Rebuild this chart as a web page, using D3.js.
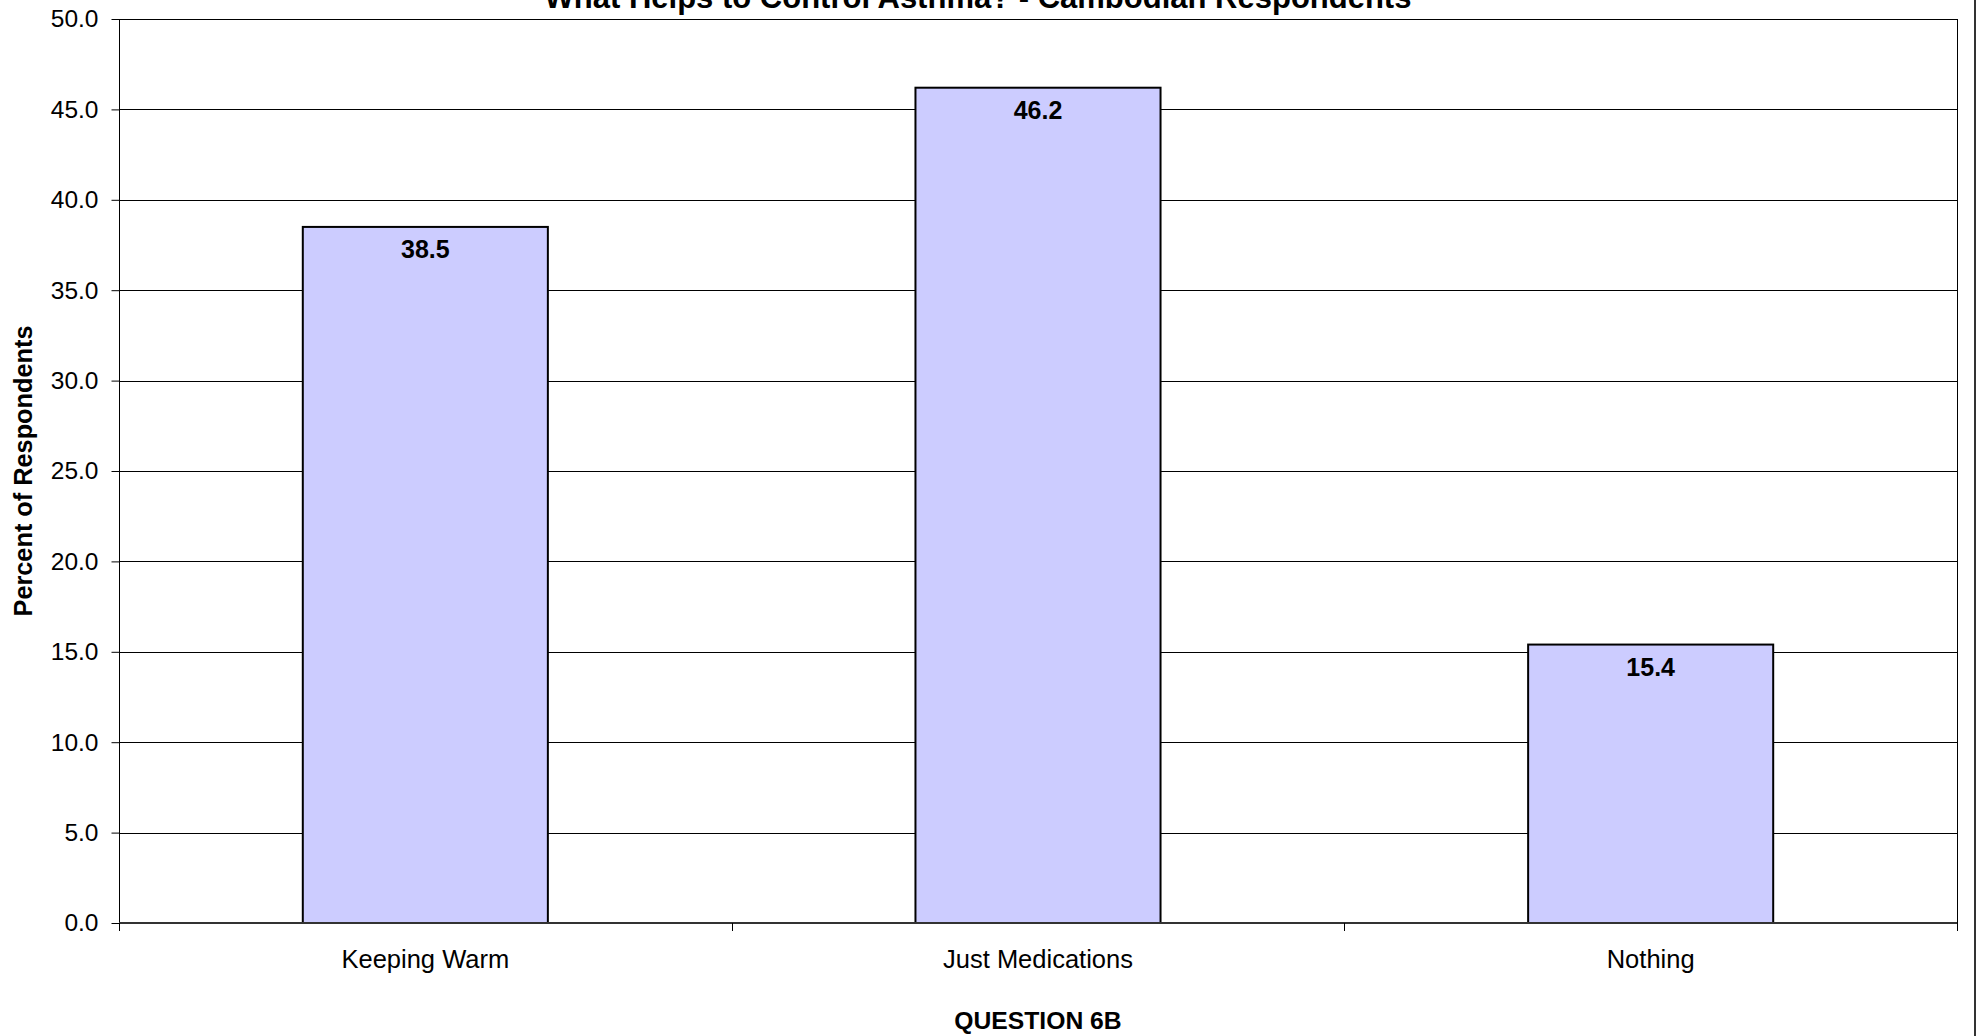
<!DOCTYPE html>
<html>
<head>
<meta charset="utf-8">
<script src="https://cdn.jsdelivr.net/npm/d3@7"></script>
<style>
  html, body { margin: 0; padding: 0; background: #fff; }
  svg { display: block; font-family: "Liberation Sans", Arial, sans-serif; }
</style>
</head>
<body>
<svg id="chart" width="1977" height="1036"></svg>
<script>
// Survey answers: what helps to control asthma (Cambodian respondents)
const categories = ["Keeping Warm", "Just Medications", "Nothing"];
const percents = [38.5, 46.2, 15.4];
const yTicks = [0, 5, 10, 15, 20, 25, 30, 35, 40, 45, 50];

const titleText = "What Helps to Control Asthma? - Cambodian Respondents";
const xTitle = "QUESTION 6B";
const yTitle = "Percent of Respondents";

const svg = d3.select("#chart");
const plot = { left: 119, right: 1957, top: 19, bottom: 923 };

const x = d3.scaleBand()
  .domain(categories)
  .range([plot.left, plot.right])
  .paddingInner(0.6)
  .paddingOuter(0.3);

const y = d3.scaleLinear()
  .domain([0, 50])
  .range([plot.bottom, plot.top]);

// horizontal gridlines
svg.append("g")
  .selectAll("line")
  .data(yTicks)
  .join("line")
  .attr("x1", plot.left)
  .attr("x2", plot.right)
  .attr("y1", d => Math.round(y(d)) + 0.5)
  .attr("y2", d => Math.round(y(d)) + 0.5)
  .attr("stroke", "#000")
  .attr("stroke-width", 1);

// right edge of plot area
svg.append("line")
  .attr("x1", plot.right + 0.5).attr("x2", plot.right + 0.5)
  .attr("y1", plot.top).attr("y2", plot.bottom)
  .attr("stroke", "#000").attr("stroke-width", 1);

// chart area border on the right
svg.append("line")
  .attr("x1", 1975).attr("x2", 1975)
  .attr("y1", 0).attr("y2", 1036)
  .attr("stroke", "#333").attr("stroke-width", 2);

// bars
svg.append("g")
  .selectAll("rect")
  .data(categories)
  .join("rect")
  .attr("x", d => x(d))
  .attr("y", (d, i) => y(percents[i]))
  .attr("width", x.bandwidth())
  .attr("height", (d, i) => y(0) - y(percents[i]))
  .attr("fill", "#CCCCFF")
  .attr("stroke", "#000")
  .attr("stroke-width", 2);

// value labels inside the bars
svg.append("g")
  .selectAll("text")
  .data(categories)
  .join("text")
  .attr("x", d => x(d) + x.bandwidth() / 2)
  .attr("y", (d, i) => y(percents[i]) + 31)
  .attr("text-anchor", "middle")
  .attr("font-size", 25)
  .attr("font-weight", "bold")
  .attr("fill", "#000")
  .text((d, i) => percents[i].toFixed(1));

// y axis
const yAxis = svg.append("g")
  .attr("transform", `translate(${plot.left + 0.5},0)`)
  .call(d3.axisLeft(y).tickValues(yTicks).tickFormat(d3.format(".1f")).tickSize(8).tickPadding(13));
yAxis.select(".domain").attr("stroke", "#000").attr("d", `M0,${plot.top}V${plot.bottom + 7}`);
yAxis.selectAll(".tick line").attr("stroke", "#000");
yAxis.selectAll(".tick text")
  .attr("font-size", 24.5)
  .attr("font-family", "'Liberation Sans', Arial, sans-serif")
  .attr("fill", "#000");

// x axis: ticks sit on category boundaries
const bounds = [plot.left, ...categories.slice(1).map(c => x(c) - x.step() * x.paddingInner() / 2), plot.right];
const xg = svg.append("g");
xg.append("line")
  .attr("x1", plot.left).attr("x2", plot.right)
  .attr("y1", plot.bottom).attr("y2", plot.bottom)
  .attr("stroke", "#333").attr("stroke-width", 2);
xg.selectAll("line.tk")
  .data(bounds)
  .join("line")
  .attr("class", "tk")
  .attr("x1", d => Math.round(d) + 0.5).attr("x2", d => Math.round(d) + 0.5)
  .attr("y1", plot.bottom).attr("y2", plot.bottom + 8)
  .attr("stroke", "#000").attr("stroke-width", 1);
xg.selectAll("text")
  .data(categories)
  .join("text")
  .attr("x", d => x(d) + x.bandwidth() / 2)
  .attr("y", 968)
  .attr("text-anchor", "middle")
  .attr("font-size", 25.5)
  .attr("fill", "#000")
  .text(d => d);

// titles
svg.append("text")
  .attr("x", 978)
  .attr("y", 8)
  .attr("text-anchor", "middle")
  .attr("font-size", 31)
  .attr("font-weight", "bold")
  .text(titleText);

svg.append("text")
  .attr("x", (plot.left + plot.right) / 2)
  .attr("y", 1029)
  .attr("text-anchor", "middle")
  .attr("font-size", 24.7)
  .attr("font-weight", "bold")
  .text(xTitle);

svg.append("text")
  .attr("transform", `translate(32,${471}) rotate(-90)`)
  .attr("text-anchor", "middle")
  .attr("font-size", 25.3)
  .attr("font-weight", "bold")
  .text(yTitle);
</script>
</body>
</html>
